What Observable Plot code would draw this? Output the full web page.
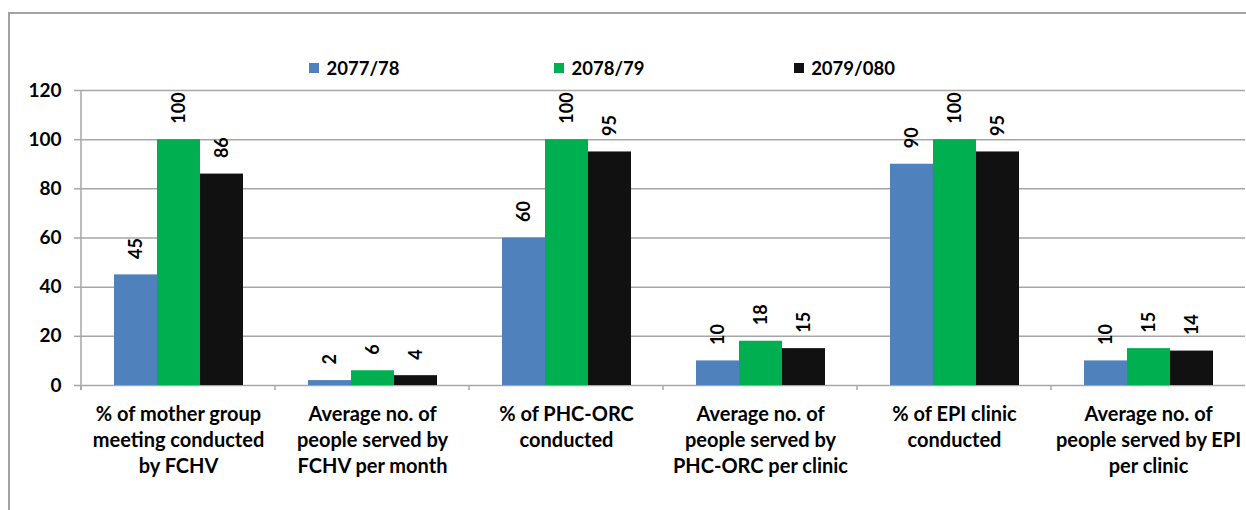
<!DOCTYPE html>
<html><head><meta charset="utf-8">
<script src="https://cdn.jsdelivr.net/npm/d3@7"></script>
<script src="https://cdn.jsdelivr.net/npm/@observablehq/plot@0.6"></script>
<style>
html,body{margin:0;padding:0;background:#fff;}
#wrap{position:relative;width:1246px;height:510px;overflow:hidden;font-family:Lato,sans-serif;}
#box{position:absolute;left:8px;top:12px;width:1400px;height:700px;border:2px solid #a3a3a3;}
#legend{position:absolute;left:232px;top:57px;width:735px;display:flex;height:22px;}
.item{flex:1;display:flex;align-items:center;justify-content:center;font-weight:bold;font-size:18.5px;color:#000;}
.sw{width:10px;height:10px;margin-right:7px;}
#chart{position:absolute;left:0;top:0;}
</style></head>
<body><div id="wrap"><div id="box"></div><div id="legend"></div><div id="chart"></div></div>
<script>
const categories = [
  "% of mother group\nmeeting conducted\nby FCHV",
  "Average no. of\npeople served by\nFCHV per month",
  "% of PHC-ORC\nconducted",
  "Average no. of\npeople served by\nPHC-ORC per clinic",
  "% of EPI clinic\nconducted",
  "Average no. of\npeople served by EPI\nper clinic"
];
const series = ["2077/78", "2078/79", "2079/080"];
const values2077_78 = [45, 2, 60, 10, 90, 10];
const values2078_79 = [100, 6, 100, 18, 100, 15];
const values2079_080 = [86, 4, 95, 15, 95, 14];
const yTicks = [0, 20, 40, 60, 80, 100, 120];
const colors = ["#4f81bd", "#00b050", "#111111"];

const seriesValues = [values2077_78, values2078_79, values2079_080];
const data = [];
categories.forEach((c, i) => series.forEach((s, j) => data.push({category: c, series: s, value: seriesValues[j][i]})));

// legend
const legend = document.getElementById("legend");
series.forEach((s, j) => {
  const it = document.createElement("div"); it.className = "item";
  const sw = document.createElement("span"); sw.className = "sw"; sw.style.background = colors[j];
  const t = document.createElement("span"); t.textContent = s;
  it.appendChild(sw); it.appendChild(t); legend.appendChild(it);
});

const gridColor = "#a6a6a6";
const plot = Plot.plot({
  width: 1246, height: 510,
  marginTop: 90, marginBottom: 125, marginLeft: 80, marginRight: 0,
  style: {background: "transparent", fontFamily: "Lato, sans-serif"},
  fx: {domain: categories, padding: 0},
  x: {domain: series, paddingInner: 0, paddingOuter: 0.744, axis: null},
  y: {domain: [0, 120]},
  color: {domain: series, range: colors},
  marks: [
    Plot.gridY(yTicks, {stroke: gridColor, strokeOpacity: 1, strokeWidth: 1.5}),
    Plot.axisY({ticks: yTicks, tickSize: 7, tickPadding: 13, stroke: gridColor, strokeWidth: 1.5, fill: "#000", fontSize: 19, fontWeight: "bold", label: null}),
    Plot.barY(data, {fx: "category", x: "series", y: "value", fill: "series"}),
    Plot.text(data, {fx: "category", x: "series", y: "value", text: d => String(d.value), rotate: -90, textAnchor: "start", lineAnchor: "middle", dy: -16, fontSize: 18, fontWeight: "bold", fill: "#000"}),
    Plot.axisFx({anchor: "bottom", tickSize: 0, tickPadding: 17, fontSize: 20, fontWeight: "bold", lineHeight: 1.3, label: null, fill: "#000"})
  ]
});
document.getElementById("chart").appendChild(plot);

// axis line and category separators
const fx = plot.scale("fx"), y = plot.scale("y");
const y0 = y.apply(0), yTop = y.apply(120);
const svg = d3.select(plot);
const g = svg.append("g").attr("stroke", gridColor).attr("stroke-width", 1.5);
const x0 = fx.apply(categories[0]);
g.append("line").attr("x1", x0).attr("x2", x0).attr("y1", yTop).attr("y2", y0 + 5);
categories.forEach(c => {
  const xx = fx.apply(c);
  g.append("line").attr("x1", xx).attr("x2", xx).attr("y1", y0).attr("y2", y0 + 5);
});
</script></body></html>
